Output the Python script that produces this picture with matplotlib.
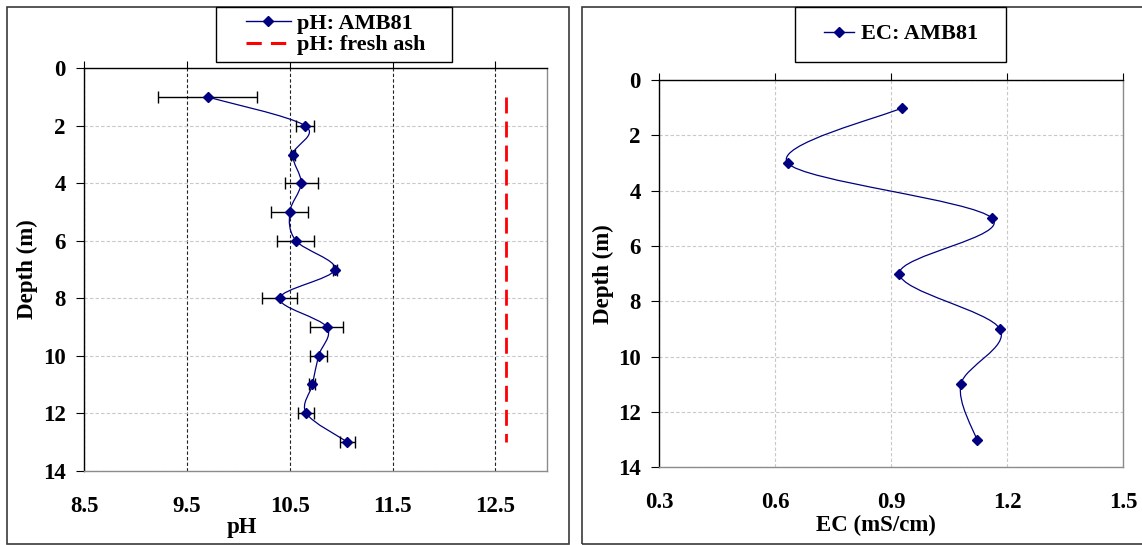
import numpy as np
import matplotlib
matplotlib.use("Agg")
import matplotlib.pyplot as plt
from matplotlib.path import Path
from matplotlib.patches import PathPatch, Rectangle
from matplotlib.lines import Line2D

plt.rcParams.update({
    'font.family': 'Liberation Serif', 'font.weight': 'bold',
    'axes.labelweight': 'bold', 'font.size': 16.5,
    'lines.scale_dashes': True,
})

NAVY = '#000080'

# pH profile, borehole AMB81 (mean +/- error) and fresh ash reference
ph_depth = [1, 2, 3, 4, 5, 6, 7, 8, 9, 10, 11, 12, 13]
ph_value = [9.70, 10.65, 10.53, 10.61, 10.50, 10.56, 10.94,
            10.40, 10.86, 10.78, 10.72, 10.66, 11.06]
ph_err = [0.48, 0.09, 0.02, 0.16, 0.18, 0.18, 0.02,
          0.17, 0.16, 0.085, 0.03, 0.08, 0.075]
ash_depth = [1, 13]
ash_ph = [12.6, 12.6]

# EC profile, borehole AMB81
ec_depth = [1, 3, 5, 7, 9, 11, 13]
ec_value = [0.929, 0.632, 1.161, 0.921, 1.181, 1.080, 1.121]


def smooth_path(xs, ys):
    """Catmull-Rom style cubic Bezier path through the points."""
    pts = np.column_stack([xs, ys]).astype(float)
    n = len(pts)
    verts, codes = [pts[0]], [Path.MOVETO]
    for i in range(n - 1):
        p0, p1 = pts[max(i - 1, 0)], pts[i]
        p2, p3 = pts[i + 1], pts[min(i + 2, n - 1)]
        verts += [p1 + (p2 - p0) / 6, p2 - (p3 - p1) / 6, p2]
        codes += [Path.CURVE4] * 3
    return Path(verts, codes)


def style_axes(ax, xticks, xlim, vgrid_color):
    ax.set_xlim(*xlim)
    ax.set_ylim(14, 0)
    ax.set_xticks(xticks)
    ax.set_yticks(range(0, 15, 2))
    ax.tick_params(axis='x', top=True, bottom=False, labeltop=False,
                   labelbottom=True, direction='out', length=5, width=0.8,
                   pad=13.0)
    ax.tick_params(axis='y', left=True, direction='out', length=5.8,
                   width=0.8, pad=7.5)
    ax.spines['top'].set_color('black')
    ax.spines['left'].set_color('black')
    ax.spines['right'].set_color('#8c8c8c')
    ax.spines['bottom'].set_color('#8c8c8c')
    for s in ax.spines.values():
        s.set_linewidth(1.0)
    ax.xaxis.grid(True, color=vgrid_color, ls=(0, (3, 2)), lw=0.8)
    ax.yaxis.grid(True, color='#c8c8c8', ls=(0, (3, 2)), lw=0.8)
    ax.set_axisbelow(True)


fig = plt.figure(figsize=(11.42, 5.45), dpi=100)

# panel frames
fig.add_artist(Rectangle((0.0059, 0.0018), 0.4921, 0.9859, transform=fig.transFigure,
                         fill=False, ec='#3a3a3a', lw=1.2))
fig.add_artist(Rectangle((0.5094, 0.0018), 0.52, 0.9859, transform=fig.transFigure,
                         fill=False, ec='#3a3a3a', lw=1.2))

# ── pH panel ──
ax1 = fig.add_axes([0.0738, 0.1363, 0.4049, 0.7384])
style_axes(ax1, [8.5, 9.5, 10.5, 11.5, 12.5], (8.5, 13.0), '#222222')
ax1.add_patch(PathPatch(smooth_path(ph_value, ph_depth), fc='none', ec=NAVY, lw=0.9))
ax1.errorbar(ph_value, ph_depth, xerr=ph_err, fmt='none', ecolor='black',
             elinewidth=1.0, capsize=4.5, capthick=1.0)
ax1.plot(ph_value, ph_depth, ls='none', marker='D', ms=4.8, color=NAVY)
ax1.plot(ash_ph, ash_depth, color='#ff0000', lw=2.0, dashes=(5.75, 2.9))
ax1.set_xlabel('pH', va='center')
ax1.xaxis.set_label_coords(0.340, -0.142)
ax1.set_ylabel('Depth (m)', va='center')
ax1.yaxis.set_label_coords(-0.124, 0.5)

# ── EC panel ──
ax2 = fig.add_axes([0.5773, 0.1426, 0.4063, 0.7106])
style_axes(ax2, [0.3, 0.6, 0.9, 1.2, 1.5], (0.3, 1.5), '#c8c8c8')
ax2.add_patch(PathPatch(smooth_path(ec_value, ec_depth), fc='none', ec=NAVY, lw=0.9))
ax2.plot(ec_value, ec_depth, ls='none', marker='D', ms=4.8, color=NAVY)
ax2.set_xlabel('EC (mS/cm)', va='center')
ax2.xaxis.set_label_coords(0.467, -0.149)
ax2.set_ylabel('Depth (m)', va='center')
ax2.yaxis.set_label_coords(-0.121, 0.5)

# legends in boxed frames above the plots
fig.add_artist(Rectangle((0.1889, 0.8868), 0.2072, 0.1009, transform=fig.transFigure,
                         fill=True, fc='white', ec='black', lw=1.0, zorder=3))
fig.add_artist(Rectangle((0.6961, 0.8868), 0.1848, 0.1009, transform=fig.transFigure,
                         fill=True, fc='white', ec='black', lw=1.0, zorder=3))

h_amb = Line2D([], [], color=NAVY, lw=1.0, marker='D', ms=5)
h_ash = Line2D([], [], color='#ff0000', lw=2.2, dashes=(5.0, 3.0))
leg1 = fig.legend([h_amb, h_ash], ['pH: AMB81', 'pH: fresh ash'], loc='center',
                  bbox_to_anchor=(0.2942, 0.9373), frameon=False, fontsize=16,
                  handlelength=2.0, handletextpad=0.3, labelspacing=0.05,
                  borderpad=0.0)
leg1.set_zorder(4)
leg2 = fig.legend([h_amb], ['EC: AMB81'], loc='center',
                  bbox_to_anchor=(0.7893, 0.9373), frameon=False, fontsize=16,
                  handlelength=1.35, handletextpad=0.3, borderpad=0.0)
leg2.set_zorder(4)

fig.savefig('out.png', dpi=100)
